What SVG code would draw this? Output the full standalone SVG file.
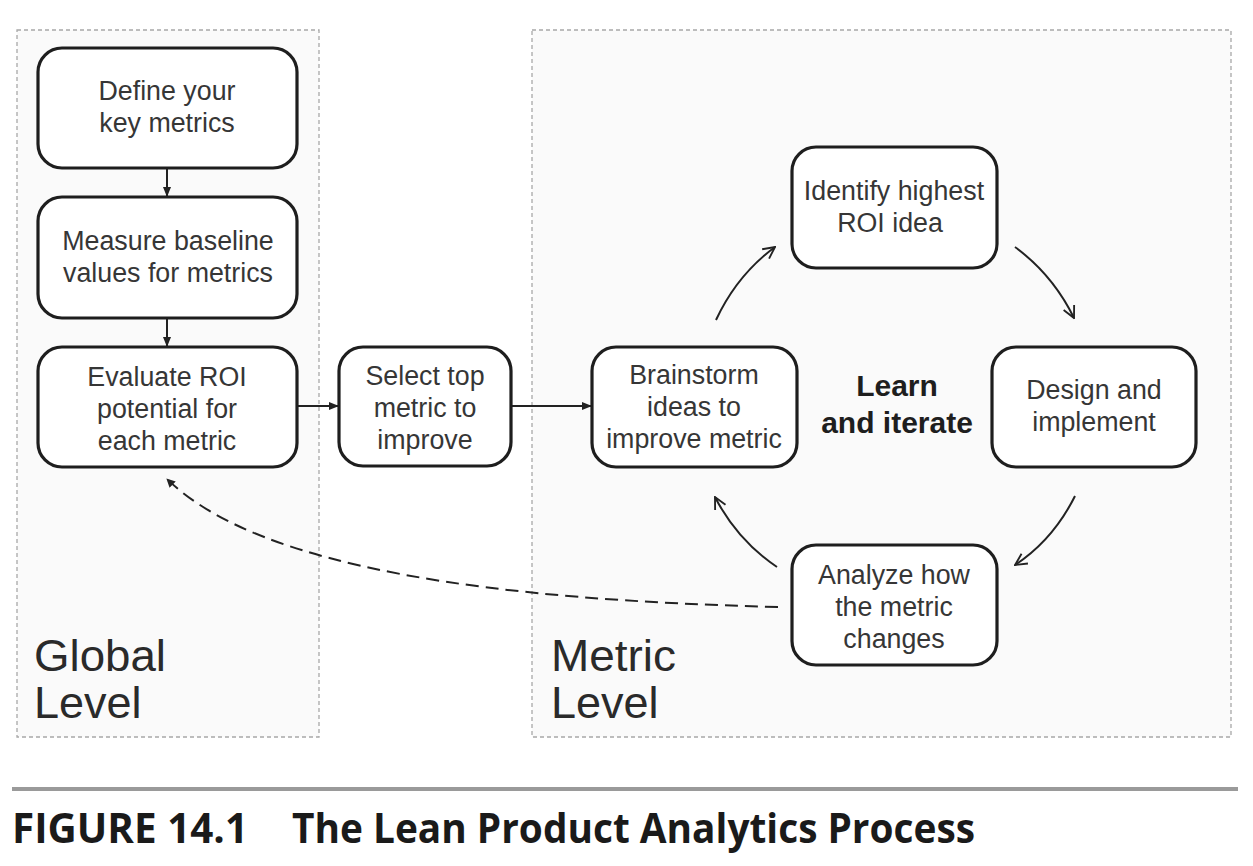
<svg xmlns="http://www.w3.org/2000/svg" width="1253" height="866" viewBox="0 0 1253 866">
<defs>
<style>
.panel{fill:#fafafa;stroke:#a8a8a8;stroke-width:1.3;stroke-dasharray:4 3}
.box{fill:#fff;stroke:#1e1e1e;stroke-width:3.2}
.t{font-family:"Liberation Sans",Arial,sans-serif;font-size:26.8px;fill:#363636;text-anchor:middle}
.big{font-family:"Liberation Sans",Arial,sans-serif;font-size:45px;fill:#2a2a2a}
.bold{font-family:"Liberation Sans",Arial,sans-serif;font-size:30px;font-weight:bold;fill:#1e1e1e;text-anchor:middle}
.ln{fill:none;stroke:#222;stroke-width:2}
.cap{font-family:"Open Sans","DejaVu Sans",sans-serif;font-size:42px;font-weight:bold;fill:#1a1a1a}
</style>
<marker id="ah" viewBox="0 0 10 10" refX="9" refY="5" markerWidth="5" markerHeight="5" orient="auto" markerUnits="strokeWidth">
<path d="M0,1 L10,5 L0,9 z" fill="#222"/>
</marker>
<marker id="dh" viewBox="0 0 10 10" refX="9" refY="5" markerWidth="4.4" markerHeight="4.4" orient="auto" markerUnits="strokeWidth">
<path d="M0,0 L10,5 L0,10 z" fill="#222"/>
</marker>
<marker id="oa" viewBox="0 0 12 12" refX="11" refY="6" markerWidth="7" markerHeight="7" orient="auto" markerUnits="strokeWidth">
<path d="M1,1 L11,6 L1,11" fill="none" stroke="#222" stroke-width="1.6"/>
</marker>
</defs>
<rect width="1253" height="866" fill="#fff"/>
<g id="panel-global">
<rect class="panel" x="17" y="30" width="302" height="707"/>
<text class="big" x="34" y="671" textLength="132" lengthAdjust="spacingAndGlyphs">Global</text>
<text class="big" x="34" y="718">Level</text>
</g>
<g id="panel-metric">
<rect class="panel" x="532" y="30" width="699" height="707"/>
<text class="big" x="551" y="671" textLength="125" lengthAdjust="spacingAndGlyphs">Metric</text>
<text class="big" x="551" y="718">Level</text>
</g>
<g id="connectors">
<line class="ln" x1="167" y1="168" x2="167" y2="196" marker-end="url(#ah)"/>
<line class="ln" x1="167" y1="318" x2="167" y2="346" marker-end="url(#ah)"/>
<line class="ln" x1="297" y1="406" x2="338" y2="406" marker-end="url(#ah)"/>
<line class="ln" x1="511" y1="406" x2="591" y2="406" marker-end="url(#ah)"/>
<path class="ln" d="M716,320 Q737,275 775,247" marker-end="url(#oa)"/>
<path class="ln" d="M1015,247 Q1053,275 1074,318" marker-end="url(#oa)"/>
<path class="ln" d="M1075,496 Q1053,540 1015,565" marker-end="url(#oa)"/>
<path class="ln" d="M777,567 Q737,540 715,497" marker-end="url(#oa)"/>
<path class="ln" d="M778,607 C500,600 260,570 167,479" stroke-width="2.8" stroke-dasharray="13 7" marker-end="url(#dh)"/>
</g>
<g id="node-define">
<rect class="box" x="38" y="48" width="259" height="120" rx="24"/>
<text class="t" x="167" y="100">Define your</text>
<text class="t" x="167" y="132">key metrics</text>
</g>
<g id="node-measure">
<rect class="box" x="38" y="197" width="259" height="121" rx="24"/>
<text class="t" x="168" y="250">Measure baseline</text>
<text class="t" x="168" y="282">values for metrics</text>
</g>
<g id="node-evaluate">
<rect class="box" x="38" y="347" width="259" height="120" rx="24"/>
<text class="t" x="167" y="386">Evaluate ROI</text>
<text class="t" x="167" y="418">potential for</text>
<text class="t" x="167" y="450">each metric</text>
</g>
<g id="node-select">
<rect class="box" x="339" y="347" width="172" height="119" rx="24"/>
<text class="t" x="425" y="385">Select top</text>
<text class="t" x="425" y="417">metric to</text>
<text class="t" x="425" y="449">improve</text>
</g>
<g id="node-brainstorm">
<rect class="box" x="592" y="347" width="205" height="120" rx="24"/>
<text class="t" x="694" y="384">Brainstorm</text>
<text class="t" x="694" y="416">ideas to</text>
<text class="t" x="694" y="448">improve metric</text>
</g>
<g id="node-identify">
<rect class="box" x="792" y="147" width="205" height="121" rx="24"/>
<text class="t" x="894" y="200">Identify highest</text>
<text class="t" x="890" y="232">ROI idea</text>
</g>
<g id="node-design">
<rect class="box" x="992" y="347" width="204" height="120" rx="24"/>
<text class="t" x="1094" y="399">Design and</text>
<text class="t" x="1094" y="431">implement</text>
</g>
<g id="node-analyze">
<rect class="box" x="792" y="545" width="205" height="120" rx="24"/>
<text class="t" x="894" y="584">Analyze how</text>
<text class="t" x="894" y="616">the metric</text>
<text class="t" x="894" y="648">changes</text>
</g>
<g id="center-label">
<text class="bold" x="897" y="396">Learn</text>
<text class="bold" x="897" y="433">and iterate</text>
</g>
<g id="caption">
<rect x="12" y="787" width="1226" height="4" fill="#9a9a9a"/>
<text class="cap" x="12" y="843" textLength="236" lengthAdjust="spacingAndGlyphs">FIGURE 14.1</text>
<text class="cap" x="292" y="843" textLength="683" lengthAdjust="spacingAndGlyphs">The Lean Product Analytics Process</text>
</g>
</svg>
